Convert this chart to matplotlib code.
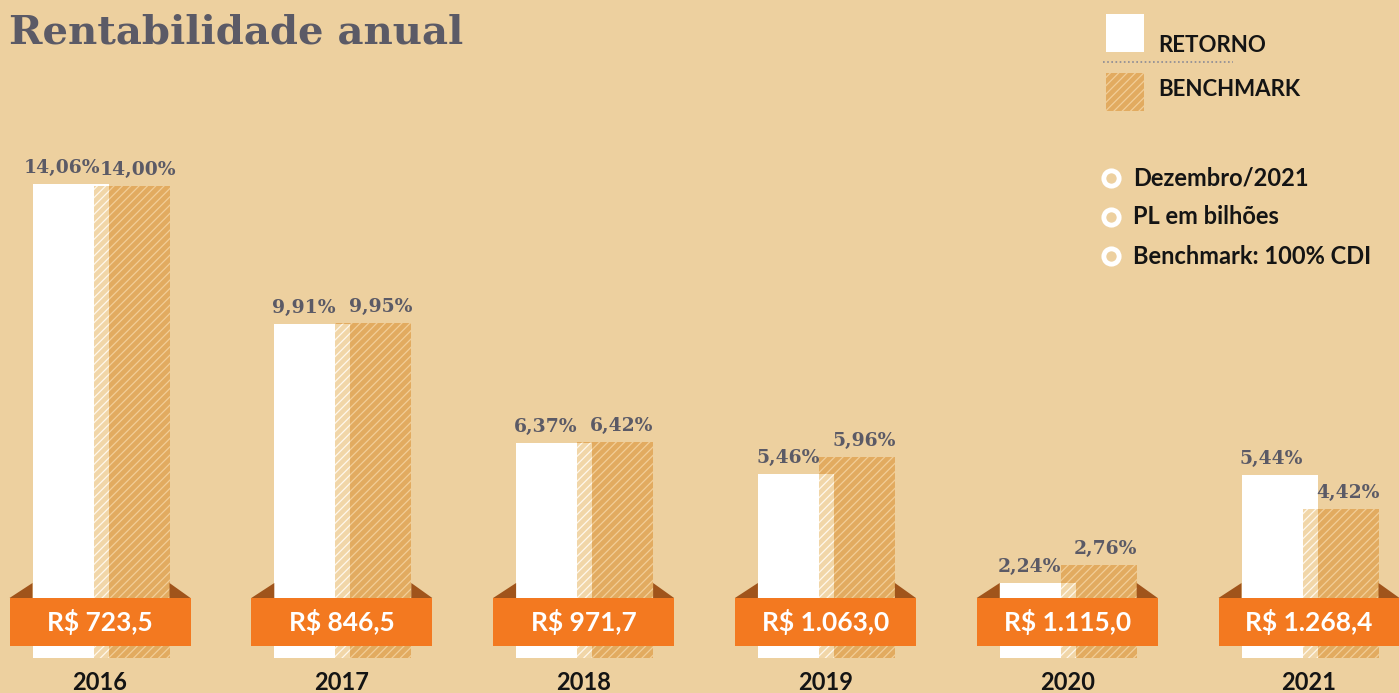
import numpy as np
import matplotlib
matplotlib.use("Agg")
import matplotlib.pyplot as plt
from matplotlib import font_manager
from matplotlib.patches import Polygon, Rectangle

# data
years = ["2016", "2017", "2018", "2019", "2020", "2021"]
retorno = [14.06, 9.91, 6.37, 5.46, 2.24, 5.44]
benchmark = [14.00, 9.95, 6.42, 5.96, 2.76, 4.42]
pl_bilhoes = [723.5, 846.5, 971.7, 1063.0, 1115.0, 1268.4]

title = "Rentabilidade anual"
legend_series = ["RETORNO", "BENCHMARK"]
notes = ["Dezembro/2021", "PL em bilhões", "Benchmark: 100% CDI"]

# colours
BG = "#EDD09F"
BENCH = "#E2AB60"
BENCH_LIGHT = "#F1D6A8"
HATCH = "#F2CE98"
ORANGE = "#F37920"
FOLD = "#A0541B"
GREY = "#5B5A66"
INK = "#141414"

available = {f.name for f in font_manager.fontManager.ttflist}
SERIF = "DejaVu Serif Condensed" if "DejaVu Serif Condensed" in available else "DejaVu Serif"
SANS = "Lato" if "Lato" in available else "DejaVu Sans"
condensed = "Condensed" in SERIF

plt.rcParams["hatch.linewidth"] = 0.9
HATCH_PAT = "////"

W, H = 1399, 693
fig = plt.figure(figsize=(W / 100, H / 100), dpi=100, facecolor=BG)

# overlay in pixel units for title and legend
lay = fig.add_axes([0, 0, 1, 1])
lay.set_xlim(0, W)
lay.set_ylim(H, 0)
lay.axis("off")

# chart axes: one unit per year, percent on y
step = 241.8
px_per_pct = 33.7
base_px = 658
ax = fig.add_axes([0, (H - base_px) / H, 1, 16 * px_per_pct / H])
ax.set_xlim(-100 / step, (W - 100) / step)
ax.set_ylim(0, 16)
ax.axis("off")

x = np.arange(len(years))
bar_w = 76 / step
off_r = -29.5 / step
off_b = 31.5 / step

ax.bar(x + off_r, retorno, width=bar_w, color="white", linewidth=0, zorder=1)
ax.bar(x + off_b, benchmark, width=bar_w, color=BENCH, edgecolor=HATCH,
       linewidth=0, hatch=HATCH_PAT, zorder=2)

# strip where the benchmark bar lies over the white bar
ov_left = x + off_b - bar_w / 2
ov_w = (off_r + bar_w / 2) - (off_b - bar_w / 2)
ax.bar(ov_left, np.minimum(retorno, benchmark), width=ov_w, align="edge",
       color=BENCH_LIGHT, edgecolor="#FFF8EC", linewidth=0,
       hatch=HATCH_PAT, zorder=3)


def pct(v):
    return f"{v:.2f}".replace(".", ",") + "%"


def brl(v):
    s = f"{v:,.1f}".replace(",", "X").replace(".", ",").replace("X", ".")
    return "R$ " + s


serif_size = 17 if condensed else 13.5
for xi, r, b in zip(x, retorno, benchmark):
    ax.text(xi + off_r - 8 / step, r + 7 / px_per_pct, pct(r), ha="center",
            va="bottom", fontsize=serif_size, fontweight="bold", family=SERIF,
            color=GREY, zorder=6)
    ax.text(xi + off_b + 7 / step, b + 7 / px_per_pct, pct(b), ha="center",
            va="bottom", fontsize=serif_size, fontweight="bold", family=SERIF,
            color=GREY, zorder=6)

# ribbons with PL values
rib_half = 90.5 / step
rib_bot = (base_px - 646) / px_per_pct
rib_top = (base_px - 598) / px_per_pct
fold_top = (base_px - 583) / px_per_pct
ax.bar(x, rib_top - rib_bot, bottom=rib_bot, width=2 * rib_half,
       color=ORANGE, linewidth=0, zorder=5)
for xi, v in zip(x, pl_bilhoes):
    lx = xi + off_r - bar_w / 2
    rx = xi + off_b + bar_w / 2
    ax.add_patch(Polygon([(xi - rib_half, rib_top), (lx, fold_top), (lx, rib_top)],
                         closed=True, color=FOLD, linewidth=0, zorder=4))
    ax.add_patch(Polygon([(rx, rib_top), (rx, fold_top), (xi + rib_half, rib_top)],
                         closed=True, color=FOLD, linewidth=0, zorder=4))
    ax.text(xi, (rib_top + rib_bot) / 2, brl(v), ha="center", va="center",
            fontsize=19, fontweight="bold", family=SANS, color="white",
            zorder=7)

for xi, yr in zip(x, years):
    ax.text(xi, -25 / px_per_pct, yr, ha="center", va="center",
            fontsize=17, fontweight="bold", family=SANS, color=INK,
            clip_on=False)

# title
lay.text(9, 33, title, ha="left", va="center",
         fontsize=36 if condensed else 29, fontweight="bold",
         family=SERIF, color=GREY)

# legend
lay.add_patch(Rectangle((1106, 14), 38, 38, facecolor="white", linewidth=0))
lay.add_patch(Rectangle((1106, 73), 38, 38, facecolor=BENCH, edgecolor=HATCH,
                        linewidth=0, hatch=HATCH_PAT))
lay.plot([1103, 1233], [62, 62], color="#8A8A95", linestyle=(0, (1, 1.5)),
         linewidth=1.2)
for label, py in zip(legend_series, [45, 90]):
    lay.text(1158, py, label, ha="left", va="center",
             fontsize=16, fontweight="bold", family=SANS, color=INK)

for note, py in zip(notes, [178, 217, 256]):
    lay.plot(1111, py, marker="o", markersize=11, markerfacecolor=BG,
             markeredgecolor="white", markeredgewidth=3.5)
    lay.text(1133, py, note, ha="left", va="center",
             fontsize=17, fontweight="bold", family=SANS, color=INK)

fig.savefig("out.png", dpi=100, facecolor=BG)
